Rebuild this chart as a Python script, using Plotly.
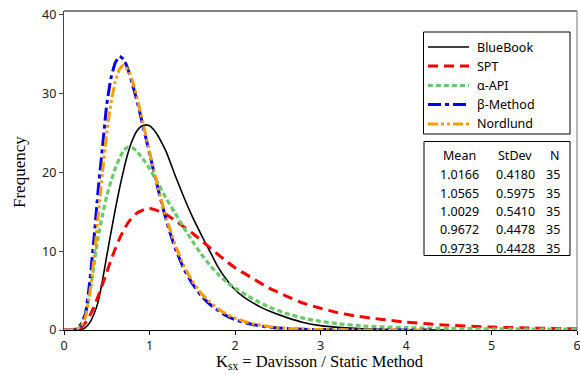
import plotly.graph_objects as go

# ---------------- data ----------------
x_bluebook = [0, 0.15, 0.2, 0.25, 0.3, 0.35, 0.4, 0.45, 0.5, 0.55, 0.6, 0.65, 0.7, 0.75, 0.8,
              0.85, 0.9, 0.95, 1.0, 1.05, 1.1, 1.15, 1.2, 1.3, 1.4, 1.5, 1.6, 1.7, 1.8, 1.9,
              2.0, 2.1, 2.2, 2.3, 2.4, 2.6, 2.8, 3.0, 3.2, 3.5, 4.0, 4.5]
y_bluebook = [0, 0, 0.05, 0.3, 0.9, 2.0, 3.6, 6.3, 9.4, 12.4, 15.3, 18.0, 20.4, 22.5, 24.1,
              25.2, 25.8, 26.0, 25.9, 25.4, 24.6, 23.6, 22.5, 19.6, 16.9, 14.4, 12.2, 10.1, 8.0, 6.4,
              5.1, 4.2, 3.5, 2.9, 2.4, 1.6, 0.95, 0.55, 0.33, 0.15, 0.04, 0]

x_spt = [0, 0.15, 0.2, 0.25, 0.3, 0.35, 0.4, 0.45, 0.5, 0.55, 0.6, 0.65, 0.7, 0.75, 0.8,
         0.85, 0.9, 0.95, 1.0, 1.05, 1.1, 1.2, 1.3, 1.4, 1.5, 1.6, 1.7, 1.8, 1.9, 2.0,
         2.2, 2.4, 2.6, 2.8, 3.0, 3.2, 3.4, 3.6, 3.8, 4.0, 4.5, 5.0, 5.5, 6.0]
y_spt = [0, 0, 0.3, 0.9, 1.8, 2.9, 4.3, 5.8, 7.3, 8.9, 10.3, 11.6, 12.7, 13.6, 14.3,
         14.8, 15.1, 15.3, 15.4, 15.3, 15.1, 14.6, 13.9, 13.1, 12.3, 11.4, 10.5, 9.6, 8.7, 7.9,
         6.6, 5.3, 4.3, 3.4, 2.75, 2.2, 1.8, 1.5, 1.25, 1.0, 0.6, 0.37, 0.24, 0.15]

x_api = [0, 0.1, 0.15, 0.2, 0.25, 0.3, 0.35, 0.4, 0.45, 0.5, 0.55, 0.6, 0.65, 0.7, 0.75,
         0.8, 0.85, 0.9, 0.95, 1.0, 1.1, 1.2, 1.3, 1.4, 1.5, 1.6, 1.7, 1.8, 1.9, 2.0,
         2.2, 2.4, 2.6, 2.8, 3.0, 3.2, 3.5, 4.0, 4.5, 5.0, 5.5, 6.0]
y_api = [0, 0, 0.2, 0.8, 2.0, 4.5, 8.2, 11.8, 14.6, 17.0, 18.9, 20.5, 21.8, 22.8, 23.2,
         23.1, 22.7, 22.0, 21.3, 20.5, 18.6, 16.6, 14.8, 13.0, 11.3, 9.7, 8.3, 7.1, 6.1, 5.3,
         4.0, 2.9, 2.1, 1.5, 1.1, 0.8, 0.5, 0.3, 0.2, 0.15, 0.12, 0.1]

x_beta = [0, 0.1, 0.15, 0.2, 0.25, 0.3, 0.35, 0.4, 0.45, 0.5, 0.55, 0.6, 0.65, 0.7, 0.75,
          0.8, 0.85, 0.9, 0.95, 1.0, 1.05, 1.1, 1.15, 1.2, 1.25, 1.3, 1.4, 1.5, 1.6, 1.7,
          1.8, 1.9, 2.0, 2.2, 2.4, 2.6, 2.8, 3.0, 3.5, 4.3]
y_beta = [0, 0, 0.1, 0.7, 2.0, 6.0, 11.5, 17.8, 23.2, 28.6, 32.0, 33.9, 34.7, 34.3, 33.0,
          31.2, 29.2, 27.0, 24.7, 22.4, 20.1, 17.9, 15.8, 13.8, 12.0, 10.4, 7.8, 5.9, 4.4, 3.3,
          2.5, 1.8, 1.3, 0.7, 0.35, 0.18, 0.09, 0.05, 0.01, 0]

x_nord = [0, 0.1, 0.15, 0.2, 0.25, 0.3, 0.35, 0.4, 0.45, 0.5, 0.55, 0.6, 0.65, 0.7, 0.75,
          0.8, 0.85, 0.9, 0.95, 1.0, 1.05, 1.1, 1.15, 1.2, 1.25, 1.3, 1.4, 1.5, 1.6, 1.7,
          1.8, 1.9, 2.0, 2.2, 2.4, 2.6, 2.8, 3.0, 3.5, 4.3]
y_nord = [0, 0, 0.1, 0.5, 1.6, 4.6, 9.0, 14.5, 20.0, 25.0, 28.8, 31.5, 33.1, 33.6, 33.0,
          31.6, 29.6, 27.4, 25.0, 22.6, 20.3, 18.1, 16.0, 14.1, 12.4, 10.8, 8.2, 6.2, 4.7, 3.6,
          2.7, 2.0, 1.5, 0.8, 0.42, 0.22, 0.11, 0.06, 0.01, 0]

series_names = ["BlueBook", "SPT", "\u03b1-API", "\u03b2-Method", "Nordlund"]
stat_mean = ["1.0166", "1.0565", "1.0029", "0.9672", "0.9733"]
stat_sd = ["0.4180", "0.5975", "0.5410", "0.4478", "0.4428"]
stat_n = ["35", "35", "35", "35", "35"]

x_ticks = [0, 1, 2, 3, 4, 5, 6]
y_ticks = [0, 10, 20, 30, 40]

# ---------------- styles ----------------
styles = [
    dict(color="#000000", width=1.6, dash="solid"),
    dict(color="#FF0000", width=3, dash="10px,6px"),
    dict(color="#66CC66", width=3.2, dash="5px,3px"),
    dict(color="#0000FF", width=3, dash="13px,4px,4px,4px"),
    dict(color="#FF9A00", width=3, dash="10px,3px,3px,3px,3px,3px"),
]
xs = [x_bluebook, x_spt, x_api, x_beta, x_nord]
ys = [y_bluebook, y_spt, y_api, y_beta, y_nord]

fig = go.Figure()
for name, x, y, st in zip(series_names, xs, ys, styles):
    fig.add_trace(go.Scatter(x=x, y=y, mode="lines", name=name, showlegend=False,
                             hoverinfo="skip",
                             line=dict(color=st["color"], width=st["width"], dash=st["dash"],
                                       shape="spline", smoothing=0.4)))

W, H = 580, 375
L, R, T, B = 64, 577, 11, 330
pw, ph = R - L, B - T


def px(xp):
    return (xp - L) / pw


def py(yp):
    return (B - yp) / ph


shapes = []
annotations = []
# frame: top black, right grey
shapes.append(dict(type="line", xref="paper", yref="paper", x0=0, x1=1, y0=1, y1=1,
                   line=dict(color="#000000", width=1.2)))
shapes.append(dict(type="line", xref="paper", yref="paper", x0=1, x1=1, y0=0, y1=1,
                   line=dict(color="#8c8c8c", width=1.2)))

# legend box
shapes.append(dict(type="rect", xref="paper", yref="paper", x0=px(423.5), x1=px(570),
                   y0=py(134), y1=py(32), line=dict(color="#000000", width=1),
                   fillcolor="white", layer="above"))
leg_y = [47, 66, 85.5, 104.5, 124]
for name, st, yy in zip(series_names, styles, leg_y):
    shapes.append(dict(type="line", xref="paper", yref="paper", x0=px(428), x1=px(469),
                       y0=py(yy), y1=py(yy), layer="above",
                       line=dict(color=st["color"], width=st["width"] if st["width"] < 2 else 3,
                                 dash=st["dash"])))
    annotations.append(dict(xref="paper", yref="paper", x=px(475), y=py(yy), text=name,
                            showarrow=False, xanchor="left", yanchor="middle",
                            font=dict(family="Noto Sans", size=12.5, color="#000000")))

# stats box
shapes.append(dict(type="rect", xref="paper", yref="paper", x0=px(424), x1=px(570),
                   y0=py(255.5), y1=py(141.5), line=dict(color="#000000", width=1),
                   fillcolor="white", layer="above"))
hdr = ["Mean", "StDev", "N"]
for cx, h in zip([459, 515, 555], hdr):
    annotations.append(dict(xref="paper", yref="paper", x=px(cx), y=py(155), text=h,
                            showarrow=False, xanchor="center", yanchor="middle",
                            font=dict(family="Noto Sans", size=12.5, color="#000000")))
row_y = [174.5, 193, 211.5, 230, 248.5]
for ry, m, s, n in zip(row_y, stat_mean, stat_sd, stat_n):
    for cx, t in zip([459, 515, 553], [m, s, n]):
        annotations.append(dict(xref="paper", yref="paper", x=px(cx), y=py(ry), text=t,
                                showarrow=False, xanchor="center", yanchor="middle",
                                font=dict(family="Noto Sans", size=12.5, color="#000000")))

# axis titles
annotations.append(dict(xref="paper", yref="paper", x=px(320), y=py(362),
                        text="K<sub>sx</sub> = Davisson / Static Method", showarrow=False,
                        xanchor="center", yanchor="middle",
                        font=dict(family="Liberation Serif", size=16.5, color="#000000")))
annotations.append(dict(xref="paper", yref="paper", x=px(19), y=py(172),
                        text="Frequency", showarrow=False, textangle=-90,
                        xanchor="center", yanchor="middle",
                        font=dict(family="Liberation Serif", size=17, color="#000000")))

fig.update_layout(
    width=W, height=H,
    margin=dict(l=L, r=W - R, t=T, b=H - B, autoexpand=False),
    paper_bgcolor="white", plot_bgcolor="white",
    hovermode=False,
    shapes=shapes, annotations=annotations,
    xaxis=dict(range=[0, 6], tickvals=x_ticks, ticktext=[str(v) for v in x_ticks],
               automargin=False, ticklabeloverflow="allow",
               showgrid=False, zeroline=False, showline=True, linecolor="#000000", linewidth=1.2,
               ticks="outside", ticklen=4, tickcolor="#000000",
               tickfont=dict(family="Noto Sans", size=12.5, color="#222222")),
    yaxis=dict(range=[0, 40.45], tickvals=y_ticks, ticktext=[str(v) for v in y_ticks],
               automargin=False, ticklabeloverflow="allow",
               showgrid=False, zeroline=False, showline=True, linecolor="#444444", linewidth=1.2,
               ticks="outside", ticklen=4, tickcolor="#444444",
               tickfont=dict(family="Noto Sans", size=12.5, color="#222222")),
)

fig.write_html("out.html", config={"displayModeBar": False},
               post_script="document.body.style.margin='0px';")
